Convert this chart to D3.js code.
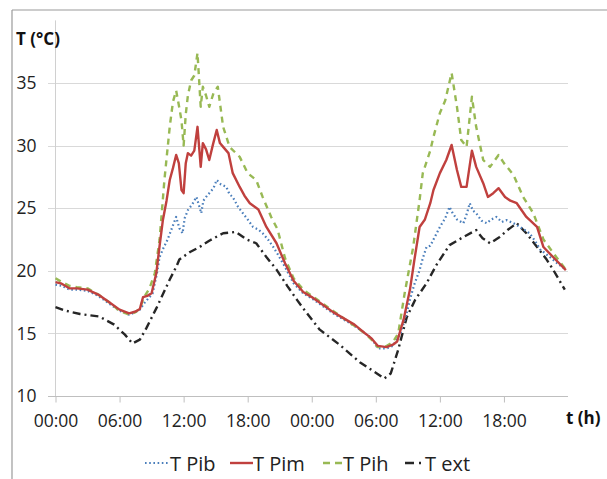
<!DOCTYPE html>
<html><head><meta charset="utf-8">
<script src="https://cdn.jsdelivr.net/npm/d3@7"></script>
<style>html,body{margin:0;padding:0;background:#fff;}svg{display:block;}</style>
</head><body>
<script>
// ---- data (hour, °C) ----
const seriesNames = ["T Pib", "T Pim", "T Pih", "T ext"];
const xTickHours = [0, 6, 12, 18, 24, 30, 36, 42];
const xTickLabels = ["00:00", "06:00", "12:00", "18:00", "00:00", "06:00", "12:00", "18:00"];
const yTicks = [10, 15, 20, 25, 30, 35];

const pibData = [
  [0,18.9],[0.6,18.8],[1.3,18.5],[2,18.5],[3,18.4],[4,18.0],[5,17.4],[6,16.8],[6.9,16.5],[7.5,16.7],[7.9,16.9],[8.3,17.4],[9.1,18.2],
  [9.5,19.8],[9.75,21.1],[10.1,21.8],[10.5,22.5],[10.9,23.4],[11.3,24.3],[11.6,23.4],[11.9,23.0],[12.1,24.2],[12.4,24.85],[12.8,25.3],[13.2,25.9],
  [13.45,25.2],[13.65,24.6],[13.85,25.6],[14.1,25.9],[14.5,26.3],[14.8,26.6],[15.1,27.25],[15.5,26.9],[16,26.7],[16.3,26.1],[16.6,25.9],[17.1,25.1],[17.55,24.6],
  [18,24.1],[18.5,23.5],[19,23.3],[19.4,23.0],[19.9,22.5],[20.4,21.9],[20.9,21.2],[21.5,20.3],[22.3,19.0],[23.2,18.2],
  [24,17.8],[25,17.2],[26,16.6],[27,16.1],[28,15.6],[29,15.0],[29.6,14.6],[30.2,13.8],[31,13.8],[31.6,14.0],[32.3,15.0],[32.8,16.3],[33.2,17.7],
  [33.6,18.9],[34.1,20.05],[34.4,21.0],[34.75,21.9],[35.1,22.0],[35.4,22.5],[36,23.5],[36.5,24.2],[36.9,25.1],[37.2,24.6],[37.6,24.1],[38.2,23.8],
  [38.5,24.5],[38.8,25.4],[39.1,24.8],[39.4,24.6],[39.9,24.0],[40.4,23.8],[40.8,24.1],[41.3,24.3],[41.8,23.9],[42.25,24.05],[42.9,23.8],[43.5,23.5],
  [44.4,23.0],[44.9,22.4],[45.4,21.7],[46.3,21.1],[47,20.6],[47.8,20.1]
];
const pimData = [
  [0,19.1],[0.5,19.0],[1.3,18.6],[2,18.6],[3,18.5],[4,18.1],[5,17.5],[6,16.9],[6.9,16.6],[7.5,16.75],[7.9,16.95],[8.2,17.9],[8.6,18.0],[9,18.2],
  [9.44,19.8],[9.75,22.0],[10.06,24.06],[10.4,25.6],[10.7,27.25],[11.0,28.2],[11.3,29.25],[11.55,28.6],[11.8,26.45],[12.0,26.2],[12.2,28.6],[12.4,29.4],
  [12.7,29.2],[13.0,29.6],[13.3,31.5],[13.6,28.3],[13.8,30.2],[14.1,29.7],[14.4,28.85],[14.75,30.1],[15.1,31.25],[15.4,30.2],[15.7,29.9],[16.2,29.4],
  [16.6,27.8],[17.25,26.7],[17.7,26.0],[18.2,25.4],[19,24.9],[19.75,23.5],[20.7,22.2],[21.5,20.6],[22.3,19.2],[23.2,18.3],
  [24,17.9],[25,17.3],[26,16.7],[27,16.2],[28,15.7],[29,15.0],[29.6,14.6],[30.2,14.0],[31,13.9],[31.6,14.1],[32,14.35],[32.6,16.1],[33.2,18.5],
  [33.6,20.8],[34.1,23.5],[34.6,24.1],[35.1,25.4],[35.4,26.45],[36,27.8],[36.6,28.85],[37.1,30.05],[37.6,28.05],[38.0,26.7],[38.5,26.7],[39.0,29.6],
  [39.4,28.3],[40.06,27.0],[40.5,25.9],[41.0,26.2],[41.5,26.6],[42.1,25.9],[42.6,25.6],[43.2,25.4],[44.1,24.3],[45.1,23.5],[45.7,21.9],[46.6,21.1],[47.8,20.05]
];
const pihData = [
  [0,19.4],[0.6,19.1],[1.3,18.8],[2,18.7],[3,18.6],[4,18.1],[5,17.5],[6,16.8],[6.9,16.5],[7.5,16.7],[7.9,17.0],[8.3,17.9],[8.8,18.6],
  [9.3,19.8],[9.75,22.5],[10.2,27.25],[10.7,31.5],[11.0,33.5],[11.3,34.4],[11.6,33.0],[11.8,32.0],[12.0,30.0],[12.2,32.5],[12.4,34.0],[12.7,35.2],
  [13.0,35.6],[13.3,37.4],[13.6,33.1],[13.8,34.7],[14.1,34.0],[14.4,33.1],[14.8,34.2],[15.2,34.7],[15.7,31.5],[16.3,29.9],[17.25,29.1],
  [18,27.8],[18.8,27.25],[19.4,25.9],[20.2,24.3],[20.8,23.3],[21.5,21.0],[22.3,19.4],[23.2,18.5],
  [24,18.0],[25,17.4],[26,16.8],[27,16.2],[28,15.6],[29,15.0],[29.6,14.5],[30.2,13.9],[31,14.0],[31.6,14.3],[32.1,15.0],[32.7,18.2],
  [33.5,21.9],[34.1,25.65],[34.4,27.8],[35.1,29.6],[35.4,30.7],[36,32.6],[36.5,33.6],[37.1,35.8],[37.6,33.1],[38,30.45],[38.5,29.9],[39,33.9],
  [39.4,31.5],[40.06,28.85],[40.7,28.3],[41.5,29.25],[42,28.6],[42.9,27.65],[43.8,25.9],[44.75,24.6],[45.7,22.5],[46.9,21.1],[47.8,20.1]
];
const extData = [
  [0,17.1],[1,16.8],[2.3,16.55],[4.1,16.35],[5.5,15.7],[6.5,14.9],[7.2,14.2],[7.9,14.5],[8.5,15.4],[9.5,17.1],[10.7,19.3],[11.3,20.3],[11.6,20.9],
  [12.6,21.5],[13.5,21.9],[14.4,22.4],[15.7,23.0],[16.9,23.1],[17.9,22.5],[18.8,22.2],[19.75,21.1],[20.7,20.1],[21.7,18.8],[22.6,17.7],[23.2,17.0],
  [24.75,15.3],[26.6,14.1],[28.5,12.7],[30.1,11.8],[30.8,11.4],[31.4,11.8],[32.1,13.7],[32.9,16.3],[33.7,17.7],[34.75,19.0],[35.7,20.5],[36.9,22.05],
  [38.2,22.7],[39.4,23.25],[40.0,22.6],[40.7,22.2],[41.6,22.7],[42.4,23.3],[43.2,23.8],[44.1,23.0],[45.1,21.9],[46,20.9],[46.6,20.1],[47.7,18.5]
];

const W = 607, H = 479;
const svg = d3.select("body").append("svg").attr("width", W).attr("height", H);
const font = "'Open Sans', 'Noto Sans', sans-serif";

// frame
svg.append("line").attr("x1", 12).attr("x2", 12).attr("y1", 10).attr("y2", H).attr("stroke", "#9a9a9a").attr("stroke-width", 1.2);
svg.append("line").attr("x1", 12).attr("x2", W).attr("y1", 10).attr("y2", 10).attr("stroke", "#9a9a9a").attr("stroke-width", 1.2);

const x = d3.scaleLinear().domain([0, 48]).range([55.5, 568]);
const y = d3.scaleLinear().domain([10, 40]).range([396, 20.4]);

// gridlines
svg.append("g").selectAll("line").data(yTicks).join("line")
  .attr("x1", 48).attr("x2", x(48))
  .attr("y1", d => Math.round(y(d)) + 0.5).attr("y2", d => Math.round(y(d)) + 0.5)
  .attr("stroke", d => d === 10 ? "#bfbfbf" : "#d9d9d9").attr("stroke-width", 1);

// y axis line
svg.append("line").attr("x1", 55.5).attr("x2", 55.5).attr("y1", y(40)).attr("y2", 396)
  .attr("stroke", "#d0d0d0").attr("stroke-width", 1);

// x axis ticks via d3 axis
const xAxis = d3.axisBottom(x).tickValues(xTickHours).tickFormat((d, i) => xTickLabels[i]).tickSize(6).tickPadding(12);
const gx = svg.append("g").attr("transform", "translate(0,396.5)").call(xAxis);
gx.select(".domain").remove();
gx.selectAll(".tick line").attr("stroke", "#bfbfbf");
gx.selectAll(".tick text").attr("font-family", font).attr("font-size", 17.5).attr("fill", "#222");

// y axis labels
const yAxis = d3.axisLeft(y).tickValues(yTicks).tickSize(0).tickPadding(19);
const gy = svg.append("g").attr("transform", "translate(55.5,0)").call(yAxis);
gy.select(".domain").remove();
gy.selectAll(".tick text").attr("font-family", font).attr("font-size", 17.5).attr("fill", "#222");

// axis titles
svg.append("text").attr("x", 16).attr("y", 45).text("T (°C)")
  .attr("font-family", font).attr("font-weight", "bold").attr("font-size", 17).attr("fill", "#111");
svg.append("text").attr("x", 566).attr("y", 424).text("t (h)")
  .attr("font-family", font).attr("font-weight", "bold").attr("font-size", 17).attr("fill", "#111");

// series
const styles = [
  {data: pibData, color: "#4a7ebb", dash: "1.6,2.6", width: 2.2, cap: "butt"},
  {data: pimData, color: "#c0403e", dash: null, width: 2.4, cap: "butt"},
  {data: pihData, color: "#98b954", dash: "6,5", width: 2.4, cap: "butt"},
  {data: extData, color: "#262626", dash: "8,4,2,4", width: 2.4, cap: "butt"}
];
const line = d3.line().x(d => x(d[0])).y(d => y(d[1]));
// draw order: ext, pib, pih, pim on top
[3, 0, 2, 1].forEach(i => {
  const s = styles[i];
  svg.append("path").datum(s.data).attr("d", line)
    .attr("fill", "none").attr("stroke", s.color).attr("stroke-width", s.width)
    .attr("stroke-linejoin", "round").attr("stroke-dasharray", s.dash);
});

// legend
const legendItems = [
  {lx: 145, lw: 23, tx: 170},
  {lx: 230, lw: 23, tx: 253},
  {lx: 323, lw: 20, tx: 343},
  {lx: 405, lw: 18, tx: 425}
];
const ly = 463;
legendItems.forEach((it, i) => {
  const s = styles[i];
  svg.append("line").attr("x1", it.lx).attr("x2", it.lx + it.lw).attr("y1", ly).attr("y2", ly)
    .attr("stroke", s.color).attr("stroke-width", s.width)
    .attr("stroke-dasharray", i === 2 ? "7,5" : (i === 3 ? "9,5,2,4" : s.dash));
  svg.append("text").attr("x", it.tx).attr("y", ly + 8).text(seriesNames[i])
    .attr("font-family", font).attr("font-size", 20).attr("fill", "#222");
});
</script>
</body></html>
